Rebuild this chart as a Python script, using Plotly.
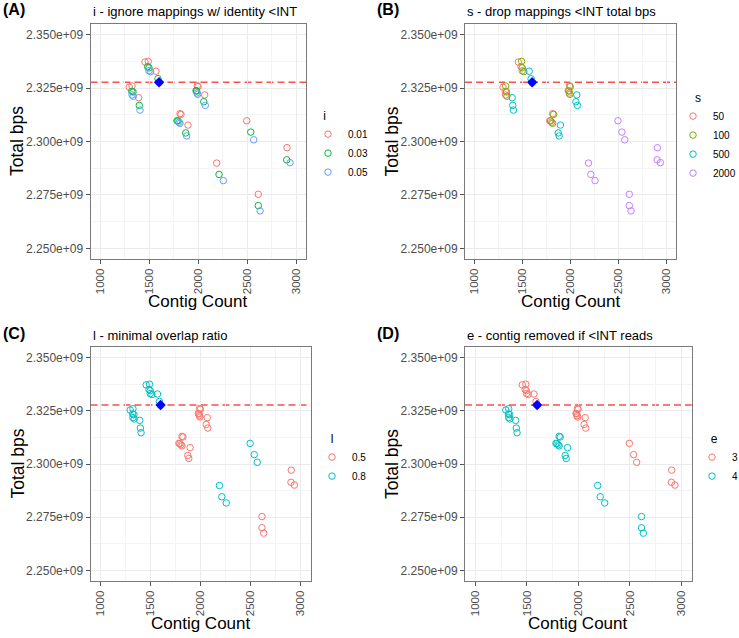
import plotly.graph_objects as go

# ---------------- data ----------------
contig_count = [
    1296, 1321, 1324, 1324, 1334, 1337, 1392, 1398, 1405, 2188, 2212, 2256,
    1456, 1484, 1497, 1490, 1497, 1514, 1569, 1589, 1600, 2495, 2536, 2566,
    1814, 1783, 1804, 1824, 1793, 1814, 1895, 1872, 1882, 2613, 2613, 2631,
    1990, 1977, 1987, 1998, 1984, 1994, 2066, 2056, 2072, 2906, 2903, 2937,
]
total_bps = [
    2.3254e9, 2.3235e9, 2.3218e9, 2.3260e9, 2.3232e9, 2.3212e9, 2.3205e9, 2.3169e9, 2.3147e9, 2.2899e9, 2.2846e9, 2.2817e9,
    2.3372e9, 2.3350e9, 2.3331e9, 2.3375e9, 2.3345e9, 2.3327e9, 2.3329e9, 2.3294e9, 2.3276e9, 2.3097e9, 2.3044e9, 2.3008e9,
    2.3130e9, 2.3097e9, 2.3090e9, 2.3127e9, 2.3096e9, 2.3085e9, 2.3077e9, 2.3040e9, 2.3026e9, 2.2753e9, 2.2700e9, 2.2675e9,
    2.3261e9, 2.3238e9, 2.3227e9, 2.3257e9, 2.3236e9, 2.3221e9, 2.3218e9, 2.3186e9, 2.3169e9, 2.2971e9, 2.2914e9, 2.2901e9,
]
param_i = [0.01, 0.03, 0.05] * 16
param_s = ([50] * 3 + [100] * 3 + [500] * 3 + [2000] * 3) * 4
param_l = [0.8] * 24 + [0.5] * 24
param_e = [4] * 12 + [3] * 12 + [4] * 12 + [3] * 12

ref_contigs = [1600]
ref_bps = [2.3277e9]

levels_i = [0.01, 0.03, 0.05]
levels_s = [50, 100, 500, 2000]
levels_l = [0.5, 0.8]
levels_e = [3, 4]

x_ticks = [1000, 1500, 2000, 2500, 3000]
x_tick_labels = ["1000", "1500", "2000", "2500", "3000"]
x_minor = [1250, 1750, 2250, 2750]
y_ticks = [2.250e9, 2.275e9, 2.300e9, 2.325e9, 2.350e9]
y_tick_labels = ["2.250e+09", "2.275e+09", "2.300e+09", "2.325e+09", "2.350e+09"]
y_minor = [2.2625e9, 2.2875e9, 2.3125e9, 2.3375e9]

titles = ["i - ignore mappings w/ identity <INT",
          "s - drop mappings <INT total bps",
          "l - minimal overlap ratio",
          "e - contig removed if <INT reads"]
panel_labels = ["(A)", "(B)", "(C)", "(D)"]

# ---------------- layout helpers ----------------
W, H = 739, 638
FONT = "Liberation Sans, Arial, Helvetica, sans-serif"
def fx(px): return px / W
def fy(py): return 1 - py / H

HUE3 = ["#F8766D", "#00BA38", "#619CFF"]
HUE4 = ["#F8766D", "#7CAE00", "#00BFC4", "#C77CFF"]
HUE2 = ["#F8766D", "#00BFC4"]

# plot boxes in pixels: (left, right, top, bottom)
boxes = [(90.5, 306, 24, 259), (465, 676, 24, 259),
         (90.5, 310.7, 347, 581), (465, 691.7, 347, 581)]
# legend left/top in pixels, and title indent (non-breaking spaces)
legend_pos = [(308, 104, 4), (673, 86, 6), (312, 427, 5), (692, 427, 5)]

panels = [
    ("i", param_i, levels_i, HUE3),
    ("s", param_s, levels_s, HUE4),
    ("l", param_l, levels_l, HUE2),
    ("e", param_e, levels_e, HUE2),
]

fig = go.Figure()
annotations = []
shapes = []

for k, (pname, pvals, levels, colors) in enumerate(panels):
    ax = "" if k == 0 else str(k + 1)
    leg = "legend" if k == 0 else f"legend{k + 1}"
    for lev, col in zip(levels, colors):
        xs = [c for c, p in zip(contig_count, pvals) if p == lev]
        ys = [b for b, p in zip(total_bps, pvals) if p == lev]
        fig.add_trace(go.Scatter(
            x=xs, y=ys, mode="markers", name=str(lev),
            marker=dict(symbol="circle-open", size=6.5, color=col, line=dict(width=1, color=col)),
            xaxis="x" + ax, yaxis="y" + ax, legend=leg, showlegend=True,
        ))
    # reference point
    fig.add_trace(go.Scatter(
        x=ref_contigs, y=ref_bps, mode="markers",
        marker=dict(symbol="diamond", size=8, color="#0000FF", line=dict(width=0)),
        xaxis="x" + ax, yaxis="y" + ax, showlegend=False,
    ))
    shapes.append(dict(type="line", xref=f"x{ax} domain", yref="y" + ax,
                       x0=0, x1=1, y0=ref_bps[0], y1=ref_bps[0],
                       line=dict(color="rgba(248,60,60,0.9)", width=1.4, dash="7px,4px"),
                       layer="below"))

    L, R, T, B = boxes[k]
    axis_common = dict(showline=True, mirror=True, linecolor="#7A7A7A", linewidth=1,
                       ticks="outside", ticklen=4, tickcolor="#555555", tickwidth=1,
                       showgrid=True, gridcolor="#EBEBEB", gridwidth=1, zeroline=False)
    fig.layout["xaxis" + ax] = dict(
        axis_common, domain=[fx(L), fx(R)], range=[900, 3100], anchor="y" + ax,
        tickmode="array", tickvals=x_ticks, ticktext=x_tick_labels, tickangle=-90,
        tickfont=dict(family=FONT, size=11.5, color="#4D4D4D"),
        minor=dict(tickmode="array", tickvals=x_minor, showgrid=True, gridcolor="#F4F4F4", gridwidth=1, ticks=""),
    )
    fig.layout["yaxis" + ax] = dict(
        axis_common, domain=[fy(B), fy(T)], range=[2.245e9, 2.355e9], anchor="x" + ax,
        tickmode="array", tickvals=y_ticks, ticktext=y_tick_labels,
        tickfont=dict(family=FONT, size=12, color="#4D4D4D"),
        minor=dict(tickmode="array", tickvals=y_minor, showgrid=True, gridcolor="#F4F4F4", gridwidth=1, ticks=""),
    )

    lx, ly, indent = legend_pos[k]
    fig.layout[leg] = dict(
        x=fx(lx), y=fy(ly), xanchor="left", yanchor="top", xref="paper", yref="paper",
        title=dict(text="\u00a0" * indent + pname, font=dict(family=FONT, size=12, color="#000000")),
        font=dict(family=FONT, size=10, color="#000000"),
        bgcolor="rgba(0,0,0,0)", borderwidth=0, tracegroupgap=0, itemclick=False,
    )

    cx = (L + R) / 2
    cy = (T + B) / 2
    # subplot title
    annotations.append(dict(text=titles[k], x=fx(L), y=fy(T - 12), xref="paper", yref="paper",
                            xanchor="left", yanchor="middle", showarrow=False,
                            font=dict(family=FONT, size=13, color="#000000")))
    # panel label
    annotations.append(dict(text="<b>" + panel_labels[k] + "</b>", x=fx(L - 90), y=fy(T - 14),
                            xref="paper", yref="paper", xanchor="left", yanchor="middle",
                            showarrow=False, font=dict(family=FONT, size=16, color="#000000")))
    # axis titles
    annotations.append(dict(text="Contig Count", x=fx(cx), y=fy(B + 42), xref="paper", yref="paper",
                            xanchor="center", yanchor="middle", showarrow=False,
                            font=dict(family=FONT, size=17, color="#000000")))
    annotations.append(dict(text="Total bps", x=fx(L - 73), y=fy(cy), xref="paper", yref="paper",
                            xanchor="center", yanchor="middle", textangle=-90, showarrow=False,
                            font=dict(family=FONT, size=17.5, color="#000000")))

fig.update_layout(
    width=W, height=H, margin=dict(l=0, r=0, t=0, b=0, autoexpand=False),
    paper_bgcolor="white", plot_bgcolor="white", hovermode=False,
    font=dict(family=FONT), annotations=annotations, shapes=shapes,
)

fig.write_html("out.html", config={"displayModeBar": False},
               post_script="document.body.style.margin='0px';")
